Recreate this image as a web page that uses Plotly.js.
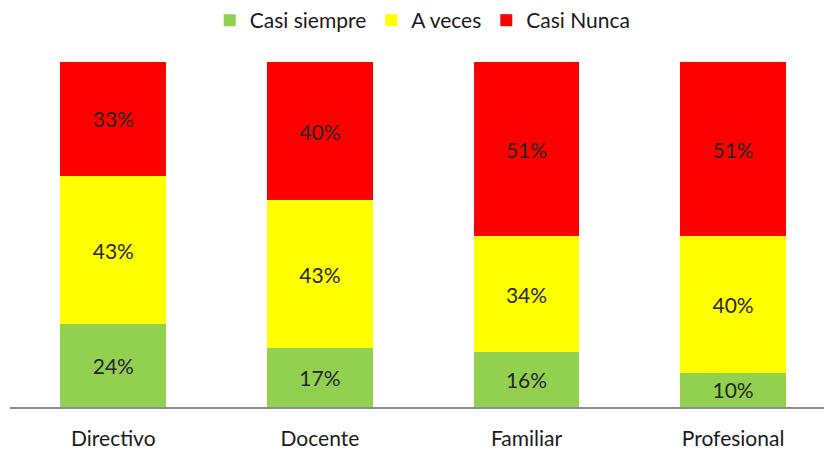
<!DOCTYPE html>
<html>
<head>
<meta charset="utf-8">
<script src="https://cdn.plot.ly/plotly-3.0.1.min.js"></script>
<style>html,body{margin:0;padding:0;background:#fff;}#chart{width:824px;height:451px;}</style>
</head>
<body>
<div id="chart"></div>
<script>
const categories = ['Directivo', 'Docente', 'Familiar', 'Profesional'];
const casiSiempre = [24, 17, 16, 10];
const aVeces = [43, 43, 34, 40];
const casiNunca = [33, 40, 51, 51];
const seriesNames = ['Casi siempre', 'A veces', 'Casi Nunca'];
const seriesColors = ['#92D050', '#FFFF00', '#FF0000'];

const FONT = 'Lato, Carlito, Calibri, sans-serif';
const seriesValues = [casiSiempre, aVeces, casiNunca];
const traces = seriesValues.map((vals, i) => ({
  type: 'bar',
  name: seriesNames[i],
  x: categories,
  y: vals,
  text: vals.map(v => v + '%'),
  textposition: 'inside',
  insidetextanchor: 'middle',
  textangle: 0,
  textfont: {family: FONT, size: 21, color: '#262626'},
  marker: {color: seriesColors[i], line: {width: 0}},
  hoverinfo: 'none',
  width: 0.513
}));

const layout = {
  width: 824, height: 451,
  margin: {l: 10, r: 0, t: 62, b: 44, pad: 0},
  paper_bgcolor: '#fff', plot_bgcolor: '#fff',
  barmode: 'stack',
  barnorm: 'percent',
  font: {family: FONT, size: 21, color: '#1a1a1a'},
  showlegend: true,
  legend: {
    orientation: 'h', x: 0.507, xanchor: 'center', y: 1.0, yanchor: 'top',
    yref: 'container', traceorder: 'normal',
    font: {family: FONT, size: 21, color: '#1a1a1a'},
    itemclick: false
  },
  xaxis: {
    type: 'category',
    range: [-0.5, 3.44],
    showline: true, linecolor: '#8c8c8c', linewidth: 1.5,
    showgrid: false, zeroline: false, ticks: '',
    ticklabelstandoff: 12,
    tickfont: {family: FONT, size: 21, color: '#1a1a1a'}
  },
  yaxis: {
    range: [0, 100], visible: false, showgrid: false, zeroline: false
  }
};

Plotly.newPlot('chart', traces, layout, {staticPlot: true});
</script>
</body>
</html>
